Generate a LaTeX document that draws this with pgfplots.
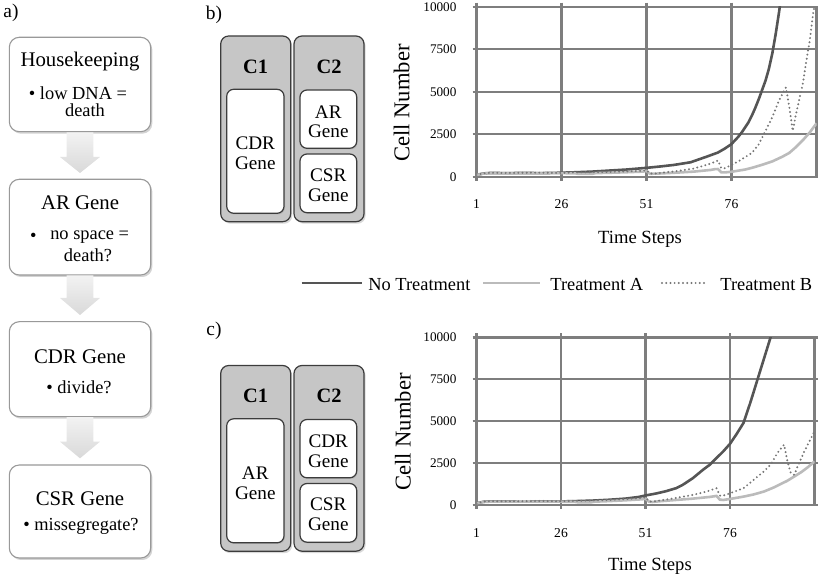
\documentclass[border=0pt]{standalone}
\usepackage{fontspec}
\setmainfont{Liberation Serif}
\usepackage{pgfplots}
\pgfplotsset{compat=1.18}
\usetikzlibrary{shadows}
\definecolor{gridgray}{HTML}{7E7E7E}
\definecolor{cNone}{HTML}{555555}
\definecolor{cA}{HTML}{BBBBBB}
\definecolor{cB}{HTML}{767676}
\definecolor{cbox}{HTML}{C6C6C6}
\definecolor{cedge}{HTML}{3C3C3C}
\newcommand{\fs}[1]{\fontsize{#1}{#1}\selectfont}

\tikzset{
  snone/.style={draw=cNone, line width=1.3pt},
  sta/.style={draw=cA, line width=1.3pt},
  stb/.style={draw=cB, line width=1.1pt, line cap=round, dash pattern=on 0pt off 2.1pt},
}
\pgfplotsset{
  cellplot/.style={
    anchor=south west, scale only axis,
    xmin=1, xmax=101, ymin=0, ymax=10000,
    xtick={1,26,51,76}, ytick={0,2500,5000,7500,10000},
    scaled y ticks=false,
    /pgf/number format/1000 sep={},
    /pgf/number format/assume math mode=true,
    grid=major,
    grid style={draw=gridgray, line width=1.15pt},
    axis line style={draw=gridgray, line width=1.15pt},
    tick style={draw=gridgray, line width=1.15pt},
    tick align=outside, major tick length=2pt,
    xticklabel style={font=\fs{6.8}, yshift=-6pt},
    yticklabel style={font=\fs{6.6}, xshift=-4.5pt},
    clip=true,
  },
}

\begin{document}
\begin{tikzpicture}
\path[use as bounding box] (0,0) rectangle (409pt,-290.5pt);

\begin{scope}[x=0.5pt, y=-0.5pt]
% ---------------- panel a: flowchart ----------------
\node[font=\fs{9.7}] at (11,13) {a)};
\tikzset{
  fcbox/.style={draw=gray!80, line width=0.55pt, fill=white, rounded corners=5pt,
    drop shadow={shadow xshift=0.8pt, shadow yshift=-1pt, opacity=0.35}},
  barrow/.style={top color=gray!10, bottom color=gray!30},
}
\path[fcbox] (9.3,37.3) rectangle (150.7,131.7);
\path[fcbox] (9.3,179.3) rectangle (150.7,275);
\path[fcbox] (9.3,321.7) rectangle (150.7,416.7);
\path[fcbox] (9.3,465) rectangle (150.7,558);

\shade[barrow] (66.7,132.5) -- (93.3,132.5) -- (93.3,157) -- (100,157) -- (80,173) -- (60,157) -- (66.7,157) -- cycle;
\shade[barrow] (66.7,275.5) -- (93.3,275.5) -- (93.3,298) -- (100,298) -- (80,315) -- (60,298) -- (66.7,298) -- cycle;
\shade[barrow] (66.7,417.2) -- (93.3,417.2) -- (93.3,441.7) -- (100,441.7) -- (80,458.3) -- (60,441.7) -- (66.7,441.7) -- cycle;

\node[font=\fs{10.4}] at (80,61.7) {Housekeeping};
\node[font=\fs{9.2}] at (78,93) {\textbullet\ low DNA =};
\node[font=\fs{9.2}] at (85,110) {death};

\node[font=\fs{10.4}] at (80,203) {AR Gene};
\node[font=\fs{9.2}] at (33.3,237) {\textbullet};
\node[font=\fs{9.2}] at (89.7,237) {no space =};
\node[font=\fs{9.2}] at (88,255) {death?};

\node[font=\fs{10.4}] at (80,356.7) {CDR Gene};
\node[font=\fs{9.2}] at (79,387) {\textbullet\ divide?};

\node[font=\fs{10.4}] at (80,498.3) {CSR Gene};
\node[font=\fs{9.2}] at (81,526.7) {\textbullet\ missegregate?};

% ---------------- panels b and c: gene boxes ----------------
\tikzset{
  cout/.style={draw=cedge, line width=0.6pt, fill=cbox, rounded corners=4pt,
    drop shadow={shadow xshift=0.8pt, shadow yshift=-1pt, opacity=0.3}},
  cin/.style={draw=cedge, line width=0.6pt, fill=white, rounded corners=3.5pt,
    drop shadow={shadow xshift=0.5pt, shadow yshift=-0.6pt, opacity=0.25}},
}
\node[font=\fs{9.7}] at (214,15) {b)};
\node[font=\fs{9.7}] at (214,331) {c)};
\foreach \dy/\big/\topg/\botg in {0/CDR/AR/CSR, 329.5/AR/CDR/CSR}{
  \path[cout] (220.7,36+\dy) rectangle (290.7,221.7+\dy);
  \path[cout] (294,36+\dy) rectangle (364,221.7+\dy);
  \node[font=\bfseries\fs{10.2}] at (255.7,66.7+\dy) {C1};
  \node[font=\bfseries\fs{10.2}] at (329,66.7+\dy) {C2};
  \path[cin] (226.7,89.3+\dy) rectangle (284,213.3+\dy);
  \path[cin] (300,90+\dy) rectangle (356.7,148.3+\dy);
  \path[cin] (300,154+\dy) rectangle (356.7,212.7+\dy);
  \node[font=\fs{9.6}] at (255.3,143.3+\dy) {\big};
  \node[font=\fs{9.6}] at (255.3,163.3+\dy) {Gene};
  \node[font=\fs{9.6}] at (328.3,111.7+\dy) {\topg};
  \node[font=\fs{9.6}] at (328.3,131.7+\dy) {Gene};
  \node[font=\fs{9.6}] at (328.3,175+\dy) {\botg};
  \node[font=\fs{9.6}] at (328.3,195+\dy) {Gene};
}

% ---------------- axis titles ----------------
\node[font=\fs{11.3}, rotate=90] at (401.7,103) {Cell Number};
\node[font=\fs{9.3}] at (640,239) {Time Steps};
\node[font=\fs{11.3}, rotate=90] at (403,432) {Cell Number};
\node[font=\fs{9.3}] at (650,566) {Time Steps};

% ---------------- legend ----------------
\draw[snone] (301.7,283) -- (361.7,283);
\node[font=\fs{9.2}, anchor=west, inner sep=0pt] at (368,285) {No Treatment};
\draw[sta] (483,283) -- (540,283);
\node[font=\fs{9.2}, anchor=west, inner sep=0pt] at (550,285) {Treatment A};
\draw[stb] (662,283) -- (708,283);
\node[font=\fs{9.2}, anchor=west, inner sep=0pt] at (720,285) {Treatment B};
\end{scope}

% ---------------- plot b ----------------
\begin{axis}[cellplot, at={(238.25pt,-88.35pt)}, width=170pt, height=85pt]
\addplot[snone] coordinates {
(1,100) (3,190) (5,220) (10,210) (15,220) (20,210) (25,230) (30,260) (35,300)
(40,360) (45,420) (51,520) (55,600) (59,690) (64,850) (69,1200) (72,1420)
(74,1650) (76,1920) (78,2350) (79,2600) (80,2900) (81,3200) (82,3600) (83,4050)
(84,4550) (85,5100) (86,5650) (87,6350) (88,7250) (89,8400) (90,9700) (91,11200)
};
\addplot[sta] coordinates {
(1,100) (3,180) (5,210) (10,200) (15,210) (20,200) (25,210) (30,200) (31,165)
(35,170) (36,210) (40,230) (45,260) (50,300) (51,340) (52,170) (55,190) (60,240)
(65,300) (70,400) (71,440) (72,450) (73,260) (74,250) (76,290) (80,420) (82,520)
(85,700) (88,900) (91,1180) (93,1400) (95,1750) (97,2150) (99,2600) (101,3140)
};
\addplot[stb] coordinates {
(1,100) (3,200) (5,230) (10,220) (15,230) (20,240) (25,220) (30,250) (35,260)
(40,280) (45,310) (50,350) (51,370) (52,200) (53,170) (55,220) (60,330) (65,480)
(70,780) (72,950) (73,500) (74,500) (76,690) (78,900) (80,1150) (82,1400)
(84,1900) (86,2700) (88,3500) (90,4500) (92,5250) (93,4100) (94,2700) (95,3700)
(96,4600) (97,5500) (98,6800) (99,8000) (100,9600) (101,10600)
};
\end{axis}

% ---------------- plot c ----------------
\begin{axis}[cellplot, at={(238.25pt,-252.5pt)}, width=169pt, height=83.8pt]
\addplot[snone] coordinates {
(1,100) (3,190) (5,220) (10,210) (15,220) (20,220) (25,210) (30,230) (35,260)
(40,310) (45,380) (49,480) (51,570) (54,680) (57,820) (60,1000) (62,1200)
(65,1600) (68,2100) (70,2400) (72,2800) (74,3200) (76,3650) (78,4250) (80,4900)
(82,6100) (84,7400) (86,8700) (88,10000) (89,10700)
};
\addplot[sta] coordinates {
(1,100) (3,180) (5,200) (10,200) (15,210) (20,200) (25,200) (30,190) (31,160)
(35,165) (36,200) (40,230) (45,280) (50,340) (51,380) (52,200) (53,180) (55,220)
(60,300) (65,380) (70,480) (72,540) (73,320) (74,300) (76,360) (80,500) (83,630)
(86,800) (89,1050) (91,1250) (93,1450) (95,1700) (97,1950) (99,2250) (101,2600)
};
\addplot[stb] coordinates {
(1,100) (3,200) (5,230) (10,220) (15,230) (20,240) (25,220) (30,250) (35,270)
(40,300) (45,350) (50,420) (51,460) (52,230) (53,200) (55,260) (60,420) (65,600)
(69,800) (72,1000) (73,560) (74,560) (76,700) (80,1000) (83,1500) (86,2000)
(88,2400) (90,3100) (92,3600) (93,2600) (94,1900) (95,1800) (96,2300) (98,3200)
(100,4000) (101,4400)
};
\end{axis}
\end{tikzpicture}
\end{document}
